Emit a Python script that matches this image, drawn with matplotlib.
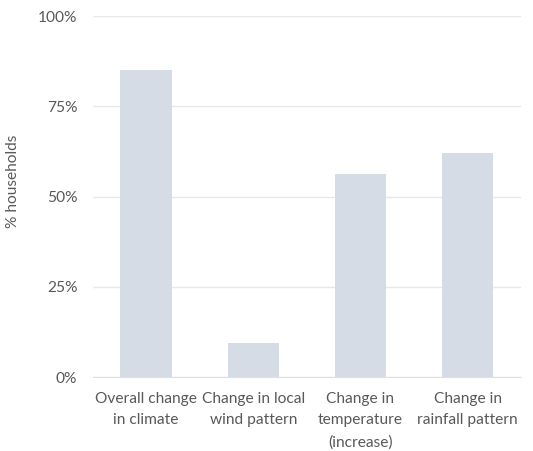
import matplotlib.pyplot as plt
from matplotlib.ticker import PercentFormatter

categorias = ['Overall change\nin climate', 'Change in local\nwind pattern',
              'Change in\ntemperature\n(increase)', 'Change in\nrainfall pattern']
valores = [85.2, 9.4, 56.4, 62.2]
y_ticks = [0, 25, 50, 75, 100]

plt.rcParams['font.family'] = ['Lato', 'DejaVu Sans']
cor_texto = '#595959'

fig = plt.figure(figsize=(5.33, 4.51), dpi=100)
ax = fig.add_axes([0.1737, 0.1634, 0.804, 0.801])

ax.bar(range(len(categorias)), valores, width=0.479, color='#D6DCE5', zorder=2)
ax.set_xlim(-0.5, len(categorias) - 0.5)
ax.set_ylim(0, 100)
ax.set_yticks(y_ticks)
ax.yaxis.set_major_formatter(PercentFormatter(decimals=0))
ax.set_xticks(range(len(categorias)))
ax.set_xticklabels(categorias, linespacing=1.68)

ax.grid(axis='y', color='#E8E8E8', linewidth=1, zorder=0)
for lado in ['top', 'right', 'left']:
    ax.spines[lado].set_visible(False)
ax.spines['bottom'].set_color('#E0E0E0')
ax.tick_params(axis='both', length=0, labelsize=11.2, colors=cor_texto)
ax.tick_params(axis='y', pad=11)
ax.tick_params(axis='x', pad=10.5)
ax.set_ylabel('% households', fontsize=11.2, color=cor_texto)
ax.yaxis.set_label_coords(-0.169, 0.542)

plt.savefig('out.png', dpi=100)
